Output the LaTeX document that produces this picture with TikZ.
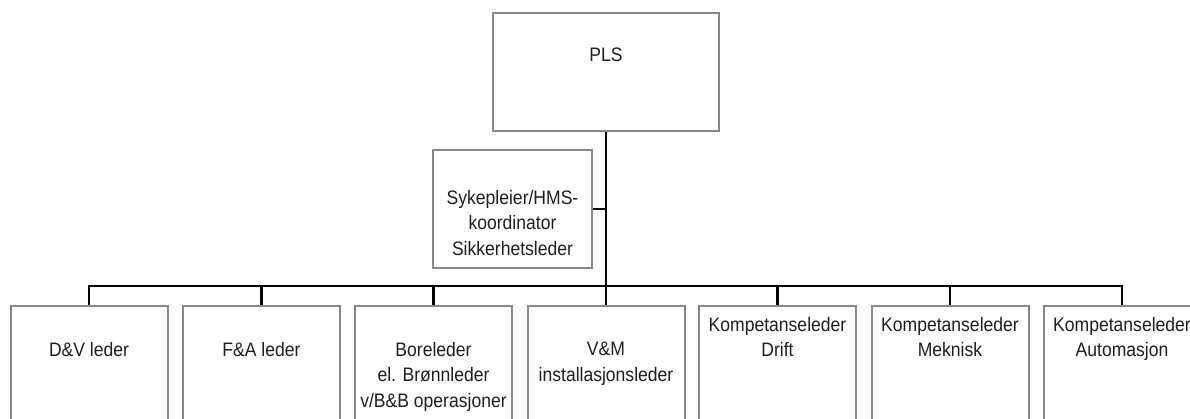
\documentclass[tikz,border=0pt]{standalone}
\usepackage{fontspec}
\setmainfont[FakeStretch=0.9]{Liberation Sans}
\begin{document}
\begin{tikzpicture}[x=1pt,y=-1pt,
  box/.style={draw=boxgray, line width=2pt, fill=white, inner sep=0pt},
  lowbox/.style={box, minimum width=157pt, minimum height=160pt, anchor=north},
  lbl/.style={inner sep=0pt, anchor=north, align=center, text=black!88,
    font=\fontsize{19.5}{25.5}\selectfont},
  conn/.style={draw=black, line width=2.4pt, line join=miter}]
\definecolor{boxgray}{RGB}{136,136,136}
\useasboundingbox (0,0) rectangle (1190,419);
\clip (0,0) rectangle (1190,419);
% top boxes
\node[box, minimum width=226pt, minimum height=118pt] (pls) at (606,72) {};
\node[box, minimum width=159pt, minimum height=118pt] (syk) at (512.5,209) {};
% bottom boxes
\node[lowbox] (b1) at (89,305) {};
\node[lowbox] (b2) at (261.5,305) {};
\node[lowbox] (b3) at (433.5,305) {};
\node[lowbox] (b4) at (606,305) {};
\node[lowbox] (b5) at (777.5,305) {};
\node[lowbox] (b6) at (950,305) {};
\node[lowbox] (b7) at (1122,305) {};
\coordinate (bus) at (606,286);
% connectors
\draw[conn] (pls.south) -- (b4.north);
\draw[conn] (syk.east) -- (syk.east -| pls.south);
\draw[conn] (b1.north) -- (b1.north |- bus) -- (b7.north |- bus) -- (b7.north);
\foreach \b in {b2,b3,b5,b6} \draw[conn] (\b.north) -- (\b.north |- bus);
% labels
\node[lbl] (tpls) at (606,47.5) {PLS};
\node[lbl] (tsyk) at (512.5,190) {Sykepleier/HMS-\\koordinator\\Sikkerhetsleder};
\node[lbl] (t1) at (89,342) {D\&V leder};
\node[lbl] (t2) at (261.5,342) {F\&A leder};
\node[lbl] (t3) at (433.5,342) {Boreleder\\el. Brønnleder\\v/B\&B operasjoner};
\node[lbl] (t4) at (606,342) {V\&M\\installasjonsleder};
\node[lbl] (t5) at (777.5,317) {Kompetanseleder\\Drift};
\node[lbl] (t6) at (950,317) {Kompetanseleder\\Meknisk};
\node[lbl] (t7) at (1122,317) {Kompetanseleder\\Automasjon};
\end{tikzpicture}
\end{document}
